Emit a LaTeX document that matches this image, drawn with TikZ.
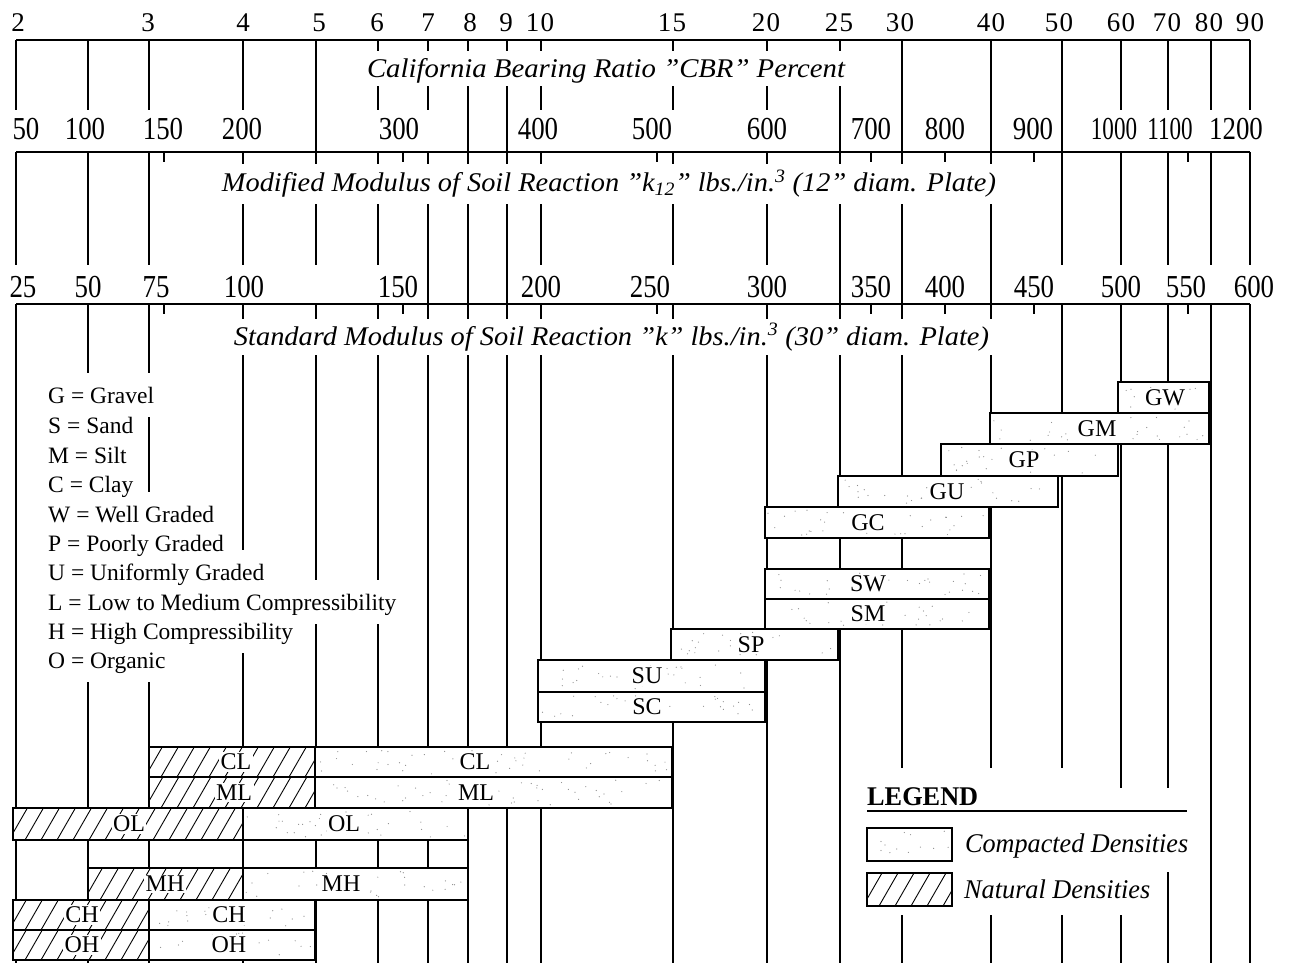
\documentclass[tikz,border=0pt]{standalone}
\usepackage{fontspec}
\usepackage{graphicx}
\setmainfont{Liberation Serif}
\newfontfamily\cbrfont[LetterSpace=5]{Liberation Serif}
\newfontfamily\numfont[FakeStretch=0.84]{Liberation Serif}
\tikzset{
  axisline/.style={line width=2.4pt},
  gridline/.style={line width=1.3pt},
  tickline/.style={line width=1.1pt},
  barline/.style={line width=1.8pt},
  hatchline/.style={line width=0.9pt},
  stip/.style={fill=black!45},
  rowA/.style={font=\cbrfont\fontsize{27}{27}\selectfont, anchor=base, inner sep=0pt},
  rowB/.style={font=\numfont\fontsize{32}{32}\selectfont, anchor=base, inner sep=0pt},
  titletext/.style={font=\fontsize{27}{27}\selectfont\itshape, fill=white, anchor=base, inner xsep=6pt, inner ysep=3pt},
  keytext/.style={font=\fontsize{23.5}{23.5}\selectfont, anchor=base west, inner xsep=3pt, text height=22pt, text depth=6pt, inner ysep=8pt},
  barlabel/.style={font=\fontsize{24}{24}\selectfont, inner sep=1.5pt},
  legtext/.style={font=\fontsize{27}{27}\selectfont\itshape, anchor=base west, inner sep=0pt},
}
\newcommand\stipple[4]{%
  \pgfmathtruncatemacro\stipN{max(1,(#2-#1)/230*(#4-#3))}%
  \foreach \k in {1,...,\stipN}{%
    \pgfmathsetmacro\stX{#1+3+rnd*(#2-#1-6)}%
    \pgfmathsetmacro\stY{#3+3+rnd*(#4-#3-6)}%
    \fill[stip] (\stX,\stY) circle (0.6);}}
\newcommand\hatchfill[4]{%
  \fill[white] (#1,#3) rectangle (#2,#4);
  \begin{scope}
    \clip (#1,#3) rectangle (#2,#4);
    \pgfmathsetmacro\hA{#1-20}\pgfmathsetmacro\hB{#1-4}%
    \foreach \h in {\hA,\hB,...,#2} \draw[hatchline] (\h,#4) -- ++(19,-33);
  \end{scope}
  \draw[barline] (#1,#3) rectangle (#2,#4);}
\newcommand\compbar[7]{%
  \draw[barline, fill=white] (#3,#5) rectangle (#4,#6);
  \stipple{#3}{#4}{#5}{#6}
  \node[barlabel, fill=white] (#1) at (#7,{(#5+#6)/2}) {#2};}
\newcommand\natbar[7]{%
  \hatchfill{#3}{#4}{#5}{#6}
  \node[barlabel, fill=white] (#1) at (#7,{(#5+#6)/2}) {#2};}
\newcommand\narrow[1]{\scalebox{0.86}[1]{#1}}
\def\gridx{16,88,149,243,316,378,428,468,507,541,673,767,840,902,991,1062,1121,1168,1211,1250}
\begin{document}
\begin{tikzpicture}[x=1pt, y=-1pt]
\pgfmathsetseed{7}
\useasboundingbox (0,0) rectangle (1304,963);
% vertical grid lines
\foreach \x in \gridx {\draw[gridline] (\x,40) -- (\x,110);}
\foreach \x in {316,468,507,840,902,991,1062} {\draw[gridline] (\x,110) -- (\x,152);}
\foreach \x in \gridx {\draw[gridline] (\x,152) -- (\x,265);}
\foreach \x in {428,468,507,840,902,991} {\draw[gridline] (\x,265) -- (\x,304);}
\foreach \x in \gridx {\draw[gridline] (\x,304) -- (\x,963);}
\foreach \x in {164,403,657,871,945,1034,1188} {\draw[tickline] (\x,152) -- (\x,162); \draw[tickline] (\x,304) -- (\x,314);}
% axis lines
\draw[axisline] (16,40) -- (1250,40);
\draw[axisline] (16,152) -- (1250,152);
\draw[axisline] (16,304) -- (1250,304);
% axis labels
\foreach \x/\t [count=\i] in {18/2,148/3,243/4,319/5,377/6,428/7,470/8,506/9,540/10,672/15,766/20,839/25,900/30,991/40,1059/50,1121/60,1167/70,1209/80,1250/90}
  {\node[rowA] (cbr\i) at (\x,32) {\t};}
\foreach \x/\t [count=\i] in {26/50,85/100,163/150,242/200,399/300,538/400,652/500,767/600,871/700,945/800,1033/900,1114/\narrow{1000},1170/\narrow{1100},1236/1200}
  {\node[rowB] (kmod\i) at (\x,140) {\t};}
\foreach \x/\t [count=\i] in {23/25,88/50,156/75,244/100,398/150,541/200,650/250,767/300,871/350,945/400,1034/450,1121/500,1186/550,1254/600}
  {\node[rowB] (kstd\i) at (\x,297) {\t};}
% titles
\node[titletext, text height=24pt, text depth=5pt] (t1) at (606,78) {\resizebox{478pt}{\height}{California Bearing Ratio "CBR" Percent}};
\node[titletext, text height=24pt, text depth=8pt, inner ysep=4pt] (t2) at (609,192) {\resizebox{774pt}{\height}{Modified Modulus of Soil Reaction "k\textsubscript{12}" lbs./in.\textsuperscript{3} (12" diam. Plate)}};
\node[titletext, text height=22pt, text depth=6pt, inner ysep=4pt] (t3) at (611.5,345) {\resizebox{755pt}{\height}{Standard Modulus of Soil Reaction "k" lbs./in.\textsuperscript{3} (30" diam. Plate)}};
% key text
\foreach \yb/\txt in {403/G = Gravel,433/S = Sand,463/M = Silt,492/C = Clay,522/W = Well Graded,551/P = Poorly Graded,580/U = Uniformly Graded,610/L = Low to Medium Compressibility,639/H = High Compressibility,668/O = Organic}
  {\node[keytext, fill=white] at (45,\yb) {\phantom{\txt}};}
\foreach \yb/\txt [count=\i] in {403/G = Gravel,433/S = Sand,463/M = Silt,492/C = Clay,522/W = Well Graded,551/P = Poorly Graded,580/U = Uniformly Graded,610/L = Low to Medium Compressibility,639/H = High Compressibility,668/O = Organic}
  {\node[keytext] (key\i) at (45,\yb) {\txt};}
% bars
\compbar{cGW}{GW}{1118}{1209}{382}{413}{1165}
\compbar{cGM}{GM}{990}{1209}{413}{444}{1097}
\compbar{cGP}{GP}{941}{1118}{444}{476}{1024}
\compbar{cGU}{GU}{838}{1058}{476}{507}{947}
\compbar{cGC}{GC}{765}{989}{507}{538}{868}
\compbar{cSW}{SW}{765}{989}{569}{599}{868}
\compbar{cSM}{SM}{765}{989}{599}{629}{868}
\compbar{cSP}{SP}{671}{838}{629}{660}{751}
\compbar{cSU}{SU}{538}{765}{660}{692}{647}
\compbar{cSC}{SC}{538}{765}{692}{722}{647}
\natbar{nCL}{CL}{149}{315}{747}{777}{236}
\compbar{cCL}{CL}{315}{672}{747}{777}{475}
\natbar{nML}{ML}{149}{315}{777}{808}{234}
\compbar{cML}{ML}{315}{672}{777}{808}{476}
\natbar{nOL}{OL}{13}{243}{808}{840}{129}
\compbar{cOL}{OL}{243}{468}{808}{840}{344}
\natbar{nMH}{MH}{88}{243}{868}{900}{165}
\compbar{cMH}{MH}{243}{468}{868}{900}{341}
\natbar{nCH}{CH}{13}{149}{900}{930}{82}
\compbar{cCH}{CH}{149}{315}{900}{930}{229}
\natbar{nOH}{OH}{13}{149}{930}{960}{82}
\compbar{cOH}{OH}{149}{315}{930}{960}{229}
% legend
\fill[white] (858,768) rectangle (1100,915);
\fill[white] (1100,788) rectangle (1192,872);
\fill[white] (1100,872) rectangle (1160,915);
\node[font=\fontsize{27}{27}\selectfont\bfseries, anchor=base west, inner sep=0pt] (legtitle) at (867,805) {\resizebox{111pt}{\height}{LEGEND}};
\draw[line width=1.8pt] (867,811) -- (1187,811);
\draw[barline, fill=white] (867,828) rectangle (952,861);
\stipple{867}{952}{828}{861}
\node[legtext] (legC) at (965,852) {\resizebox{223pt}{\height}{Compacted Densities}};
\hatchfill{867}{952}{873}{906}
\node[legtext] (legN) at (964,898) {\resizebox{186pt}{\height}{Natural Densities}};
\end{tikzpicture}
\end{document}
